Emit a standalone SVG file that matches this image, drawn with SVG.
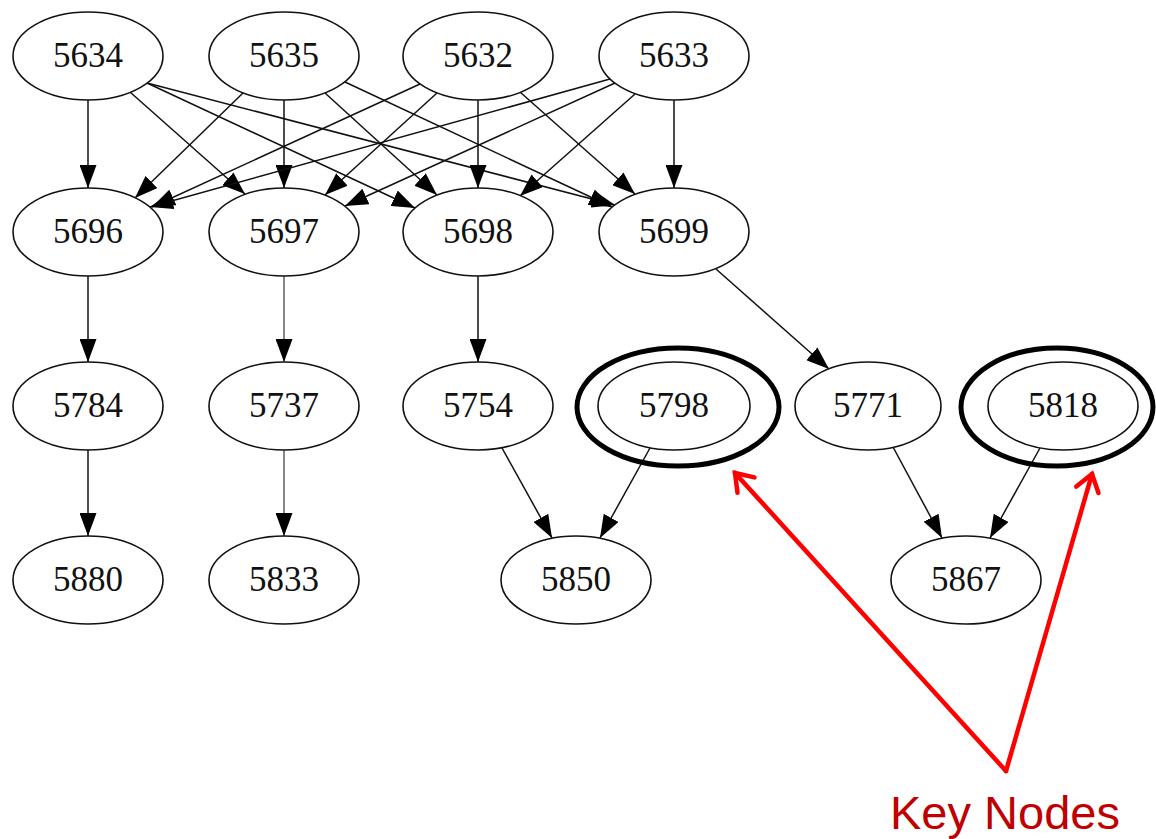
<svg xmlns="http://www.w3.org/2000/svg" width="1156" height="839" viewBox="0 0 1156 839">
  <defs>
    <marker id="arr" markerUnits="userSpaceOnUse" markerWidth="23" markerHeight="17" refX="23" refY="8.5" orient="auto" viewBox="0 0 23 17">
      <path d="M0,0 L23,8.5 L0,17 Z" fill="#000"/>
    </marker>
  </defs>
  <style>
    .n ellipse { fill: #fff; stroke: #111; stroke-width: 1.6; }
    .n ellipse.outer { fill: none; stroke: #000; stroke-width: 5; }
    .n text { font-family: "Liberation Serif", "Times New Roman", serif; font-size: 35px; fill: #111; text-anchor: middle; }
    .e { fill: none; stroke: #111; stroke-width: 1.5; marker-end: url(#arr); }
    .e.thin { stroke-width: 1; }
    .red { fill: none; stroke: #ff0000; stroke-width: 4.5; stroke-linecap: round; stroke-linejoin: miter; }
    .lbl { font-family: "Liberation Sans", Arial, sans-serif; font-size: 47px; fill: #c00000; }
  </style>
  <rect width="1156" height="839" fill="#fff"/>

  <g id="connectors">
    <!-- row 1 to row 2 -->
    <path class="e" d="M88,100 L88,188"/>
    <path class="e" d="M130,92 L245,194"/>
    <path class="e" d="M147,83 L415,208"/>
    <path class="e" d="M147,83 L615,205"/>

    <path class="e" d="M243,93 L135,198"/>
    <path class="e" d="M284,100 L284,188"/>
    <path class="e" d="M325,93 L437,195"/>
    <path class="e" d="M345,82 L612,207"/>

    <path class="e" d="M420,84 L152,207"/>
    <path class="e" d="M437,93 L325,195"/>
    <path class="e" d="M478,100 L478,188"/>
    <path class="e" d="M520,92 L635,194"/>

    <path class="e" d="M610,79 L150,207"/>
    <path class="e" d="M615,83 L345,206"/>
    <path class="e" d="M635,94 L520,196"/>
    <path class="e" d="M674,100 L674,188"/>

    <!-- row 2 to row 3 -->
    <path class="e" d="M88,276 L88,362"/>
    <path class="e thin" d="M284,276 L284,362"/>
    <path class="e" d="M478,276 L478,362"/>
    <path class="e" d="M716,269 L829,369"/>

    <!-- row 3 to row 4 -->
    <path class="e" d="M88,450 L88,536"/>
    <path class="e thin" d="M284,450 L284,536"/>
    <path class="e" d="M502,448 L552,538"/>
    <path class="e" d="M650,448 L600,538"/>
    <path class="e" d="M893,447 L942,538"/>
    <path class="e" d="M1040,448 L990,538"/>
  </g>

  <g id="n5634" class="n"><ellipse cx="88" cy="56" rx="75" ry="44"/><text x="88" y="67">5634</text></g>
  <g id="n5635" class="n"><ellipse cx="284" cy="56" rx="75" ry="44"/><text x="284" y="67">5635</text></g>
  <g id="n5632" class="n"><ellipse cx="478" cy="56" rx="75" ry="44"/><text x="478" y="67">5632</text></g>
  <g id="n5633" class="n"><ellipse cx="674" cy="56" rx="75" ry="44"/><text x="674" y="67">5633</text></g>

  <g id="n5696" class="n"><ellipse cx="88" cy="232" rx="75" ry="44"/><text x="88" y="243">5696</text></g>
  <g id="n5697" class="n"><ellipse cx="284" cy="232" rx="75" ry="44"/><text x="284" y="243">5697</text></g>
  <g id="n5698" class="n"><ellipse cx="478" cy="232" rx="75" ry="44"/><text x="478" y="243">5698</text></g>
  <g id="n5699" class="n"><ellipse cx="674" cy="232" rx="75" ry="44"/><text x="674" y="243">5699</text></g>

  <g id="n5784" class="n"><ellipse cx="88" cy="406" rx="75" ry="44"/><text x="88" y="417">5784</text></g>
  <g id="n5737" class="n"><ellipse cx="284" cy="406" rx="75" ry="44"/><text x="284" y="417">5737</text></g>
  <g id="n5754" class="n"><ellipse cx="478" cy="406" rx="75" ry="44"/><text x="478" y="417">5754</text></g>
  <g id="n5798" class="n"><ellipse class="outer" cx="678" cy="407" rx="101" ry="59"/><ellipse cx="674" cy="406" rx="76" ry="44"/><text x="674" y="417">5798</text></g>
  <g id="n5771" class="n"><ellipse cx="868" cy="406" rx="73" ry="44"/><text x="868" y="417">5771</text></g>
  <g id="n5818" class="n"><ellipse class="outer" cx="1057" cy="407" rx="96" ry="59"/><ellipse cx="1063" cy="406" rx="75" ry="44"/><text x="1063" y="417">5818</text></g>

  <g id="n5880" class="n"><ellipse cx="88" cy="580" rx="75" ry="44"/><text x="88" y="591">5880</text></g>
  <g id="n5833" class="n"><ellipse cx="284" cy="580" rx="75" ry="44"/><text x="284" y="591">5833</text></g>
  <g id="n5850" class="n"><ellipse cx="576" cy="580" rx="75" ry="44"/><text x="576" y="591">5850</text></g>
  <g id="n5867" class="n"><ellipse cx="966" cy="580" rx="75" ry="44"/><text x="966" y="591">5867</text></g>

  <g id="annotation">
    <path class="red" d="M1006,771 L735,473"/>
    <path class="red" d="M754.5,477.4 L735,473 L737.5,492.8"/>
    <path class="red" d="M1006,771 L1092,474"/>
    <path class="red" d="M1098.5,493 L1092,474 L1076.3,486.6"/>
    <text class="lbl" x="890" y="829">Key Nodes</text>
  </g>
</svg>
